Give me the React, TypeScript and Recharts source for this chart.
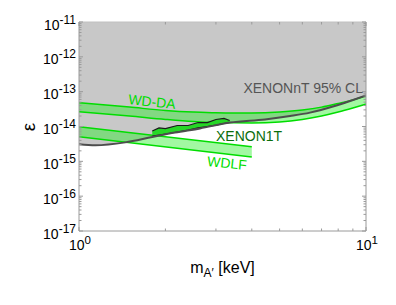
import React from 'react'
import { ComposedChart, Area, Line, XAxis, YAxis } from 'recharts'

// XENONnT 95% CL exclusion boundary
const ntMass = [1, 1.14, 1.45, 1.8, 2.16, 2.64, 3.36, 4.45, 5.44, 6.38, 7.67, 8.8, 10]
const ntEps = [3.1e-15, 2.9e-15, 3.5e-15, 5.0e-15, 6.7e-15, 8.8e-15, 1.3e-14, 1.6e-14, 2.0e-14, 2.5e-14, 3.75e-14, 5.4e-14, 7.8e-14]

// WD-DA band
const daMass = [1, 1.5, 2, 2.5, 3, 4, 5, 6, 7, 8, 9, 10]
const daUpper = [4.8e-14, 3.6e-14, 2.9e-14, 2.6e-14, 2.47e-14, 2.44e-14, 2.6e-14, 2.97e-14, 3.6e-14, 4.6e-14, 5.8e-14, 7.5e-14]
const daLower = [2.66e-14, 2.0e-14, 1.6e-14, 1.39e-14, 1.3e-14, 1.26e-14, 1.35e-14, 1.6e-14, 2.0e-14, 2.6e-14, 3.4e-14, 4.4e-14]

// WDLF band
const lfMass = [1, 4]
const lfUpper = [9.9e-15, 2.63e-15]
const lfLower = [5.1e-15, 1.33e-15]

// XENON1T region
const x1tMass = [1.8, 1.9, 2.0, 2.2, 2.4, 2.6, 2.8, 3.0, 3.2, 3.35]
const x1tUpper = [7.4e-15, 9.1e-15, 8.75e-15, 1.07e-14, 1.07e-14, 1.3e-14, 1.3e-14, 1.59e-14, 1.7e-14, 1.49e-14]
const x1tLower = [5.3e-15, 5.7e-15, 6.1e-15, 6.95e-15, 7.9e-15, 9.1e-15, 1.0e-14, 1.1e-14, 1.22e-14, 1.3e-14]

const yDecades = [1e-17, 1e-16, 1e-15, 1e-14, 1e-13, 1e-12, 1e-11]
const minorSteps = [2, 3, 4, 5, 6, 7, 8, 9]

const xTicks = [1, ...minorSteps, 10]
const yTicks = yDecades.flatMap((d, i) => (i < yDecades.length - 1 ? [d, ...minorSteps.map(s => s * d)] : [d]))

const ntData = ntMass.map((m, i) => ({ m, eps: ntEps[i], r: [ntEps[i], 1e-11] }))
const daData = daMass.map((m, i) => ({ m, r: [daLower[i], daUpper[i]] }))
const lfData = lfMass.map((m, i) => ({ m, r: [lfLower[i], lfUpper[i]] }))
const x1tData = x1tMass.map((m, i) => ({ m, r: [x1tLower[i], x1tUpper[i]] }))

const FONT = 'Liberation Sans, Arial, Helvetica, sans-serif'
const AXIS = '#9a9a9a'
const GREEN = '#00dd00'

const isMajor = (v: number) => Math.abs(Math.log10(v) - Math.round(Math.log10(v))) < 1e-6
const expOf = (v: number) => Math.round(Math.log10(v))

const BottomTick = (props: any) => {
  const { x, y, payload } = props
  const major = isMajor(payload.value)
  return (
    <g>
      <line x1={x} x2={x} y1={y} y2={y - (major ? 4 : 2.5)} stroke={AXIS} />
      {major && (
        <text x={x + 1} y={y + 18.5} textAnchor="middle" fontSize={14} fontFamily={FONT} fill="#000">
          <tspan>10</tspan>
          <tspan dy={-6} fontSize={11.5}>{expOf(payload.value)}</tspan>
        </text>
      )}
    </g>
  )
}

const TopTick = (props: any) => {
  const { x, y, payload } = props
  const major = isMajor(payload.value)
  return <line x1={x} x2={x} y1={y} y2={y + (major ? 4 : 2.5)} stroke={AXIS} />
}

const LeftTick = (props: any) => {
  const { x, y, payload } = props
  const major = isMajor(payload.value)
  return (
    <g>
      <line x1={x} x2={x + (major ? 4 : 2.5)} y1={y} y2={y} stroke={AXIS} />
      {major && (
        <text x={x - 3} y={y + 7.5} textAnchor="end" fontSize={14} fontFamily={FONT} fill="#000">
          <tspan>10</tspan>
          <tspan dy={-6} fontSize={12}>{expOf(payload.value)}</tspan>
        </text>
      )}
    </g>
  )
}

const RightTick = (props: any) => {
  const { x, y, payload } = props
  const major = isMajor(payload.value)
  return <line x1={x} x2={x - (major ? 4 : 2.5)} y1={y} y2={y} stroke={AXIS} />
}

function Labels() {
  return (
    <svg width={396} height={305} style={{ position: 'absolute', left: 0, top: 0, pointerEvents: 'none' }}>
      <text x={363} y={93} textAnchor="end" fontSize={14} fontFamily={FONT} fill="#555">XENONnT 95% CL</text>
      <text x={216} y={140.5} fontSize={14} fontFamily={FONT} fill="#0b6e0b">XENON1T</text>
      <text x={152} y={106.5} textAnchor="middle" fontSize={14} fontFamily={FONT} fill={GREEN} transform="rotate(6 152 102)">WD-DA</text>
      <text x={227} y={168} textAnchor="middle" fontSize={14} fontFamily={FONT} fill={GREEN} transform="rotate(6 227 163)">WDLF</text>
      <text transform="translate(34.5 127) rotate(-90)" textAnchor="middle" fontSize={19} fontFamily={FONT} fill="#000">ε</text>
      <text x={222.5} y={273} textAnchor="middle" fontSize={16} fontFamily={FONT} fill="#000">
        <tspan>m</tspan>
        <tspan dy={4} fontSize={12}>A′</tspan>
        <tspan dy={-4}> [keV]</tspan>
      </text>
    </svg>
  )
}

export default function App() {
  return (
    <div style={{ position: 'absolute', left: 0, top: 0, width: 396, height: 305 }}>
      <ComposedChart width={396} height={305} margin={{ top: 12, right: 20, bottom: 44, left: 19 }}>
        <XAxis xAxisId={0} type="number" dataKey="m" scale="log" domain={[1, 10]} ticks={xTicks} interval={0}
          allowDataOverflow height={30} tickSize={0} tickMargin={0} tick={<BottomTick />} stroke={AXIS} />
        <XAxis xAxisId="top" orientation="top" type="number" dataKey="m" scale="log" domain={[1, 10]} ticks={xTicks}
          interval={0} allowDataOverflow height={10} tickSize={0} tickMargin={0} tick={<TopTick />} stroke="#c0c0c0" />
        <YAxis yAxisId={0} type="number" scale="log" domain={[1e-17, 1e-11]} ticks={yTicks} interval={0}
          allowDataOverflow width={60} tickSize={0} tickMargin={0} tick={<LeftTick />} stroke={AXIS} />
        <YAxis yAxisId="right" orientation="right" type="number" scale="log" domain={[1e-17, 1e-11]} ticks={yTicks}
          interval={0} allowDataOverflow width={10} tickSize={0} tickMargin={0} tick={<RightTick />} stroke={AXIS} />

        <Area data={ntData} dataKey="r" type="monotone" fill="#c8c8c8" fillOpacity={1} stroke="none" isAnimationActive={false} />
        <Area data={daData} dataKey="r" type="monotone" fill="#22ee22" fillOpacity={0.42} stroke={GREEN} strokeWidth={1.5} isAnimationActive={false} />
        <Area data={lfData} dataKey="r" type="linear" fill="#22ee22" fillOpacity={0.42} stroke={GREEN} strokeWidth={1.5} isAnimationActive={false} />
        <Line data={ntData} dataKey="eps" type="monotone" stroke="#4d4d4d" strokeWidth={2} dot={false} isAnimationActive={false} />
        <Area data={x1tData} dataKey="r" type="linear" fill="#26d626" fillOpacity={1} stroke="#1a1a1a" strokeWidth={1.2} isAnimationActive={false} />
      </ComposedChart>
      <Labels />
    </div>
  )
}
